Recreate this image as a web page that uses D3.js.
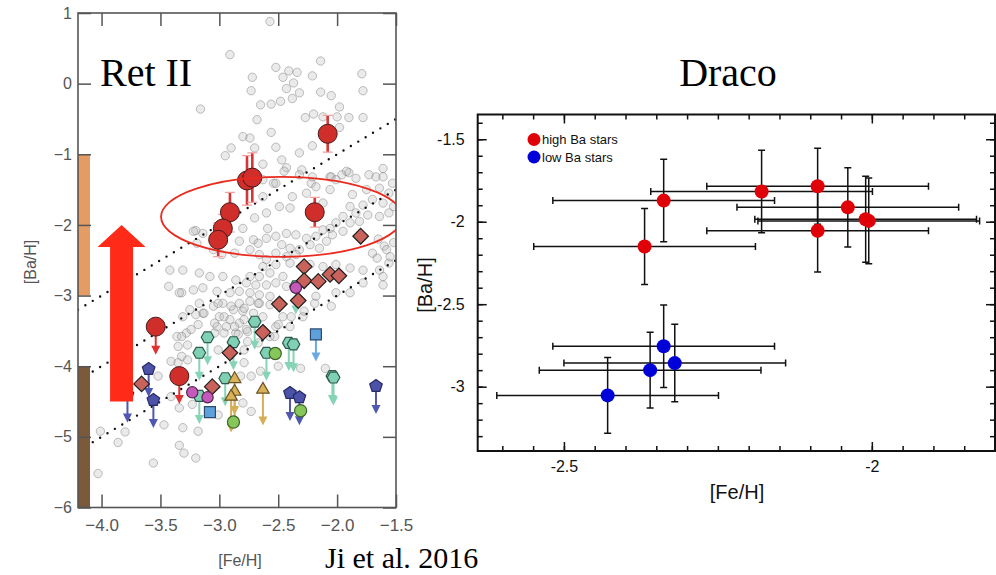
<!DOCTYPE html>
<html>
<head>
<meta charset="utf-8">
<script src="https://cdn.jsdelivr.net/npm/d3@7"></script>
<style>
body { margin: 0; background: #fff; }
svg { display: block; font-family: "Liberation Sans", Arial, sans-serif; }
</style>
</head>
<body>
<div id="chart"></div>
<script>
// ---- left panel data : [Fe/H], [Ba/H] ----
var haloStars = [
  [-2.57,0.88],[-2.91,0.41],[-2.14,0.32],[-2.52,0.23],[-2.41,0.18],[-2.34,0.16],[-2.21,0.11],[-1.79,0.14],
  [-2.72,0.09],[-2.46,0.09],[-2.37,0.01],[-2.43,-0.07],[-2.73,-0.10],[-2.32,-0.13],[-2.14,-0.12],[-2.05,-0.17],
  [-1.78,-0.10],[-2.38,-0.21],[-2.48,-0.25],[-2.56,-0.29],[-2.65,-0.30],[-1.98,-0.33],[-3.16,-0.36],[-2.27,-0.48],
  [-2.20,-0.43],[-2.12,-0.47],[-2.00,-0.47],[-1.90,-0.48],[-1.78,-0.48],[-2.68,-0.51],[-1.98,-0.62],[-2.56,-0.69],
  [-2.80,-0.75],[-2.74,-0.77],[-2.90,-0.91],[-2.70,-0.91],[-2.52,-0.90],[-2.21,-0.88],[-2.95,-1.02],[-2.32,-0.98],
  [-2.47,-1.08],[-2.63,-1.14],[-2.43,-1.19],[-2.30,-1.22],[-2.06,-1.32],[-1.96,-1.29],[-1.90,-1.26],[-2.22,-1.41],
  [-2.54,-1.41],[-1.67,-1.32],[-1.61,-1.20],[-3.20,-2.08],
  [-2.45,-1.24],[-2.32,-1.29],[-2.21,-1.32],[-2.05,-1.32],[-1.92,-1.24],[-1.84,-1.34],[-1.73,-1.29],[-1.61,-1.32],
  [-1.53,-1.41],[-1.64,-1.48],[-1.56,-1.55],[-1.75,-1.50],[-1.87,-1.57],[-1.70,-1.64],[-1.61,-1.69],[-1.52,-1.74],
  [-1.78,-1.72],[-1.89,-1.74],[-1.84,-1.83],[-1.74,-1.86],[-1.64,-1.88],[-1.56,-1.83],[-1.95,-1.88],[-2.01,-1.97],
  [-2.06,-2.05],[-1.89,-1.97],[-1.81,-1.95],[-2.12,-2.07],[-2.04,-2.14],[-1.95,-2.09],[-2.18,-2.16],[-2.26,-2.19],
  [-2.09,-2.23],[-2.15,-2.33],[-2.23,-2.28],[-2.32,-2.35],[-2.40,-2.33],[-2.47,-2.28],[-2.35,-2.42],[-2.43,-2.45],
  [-2.52,-2.40],[-2.60,-2.49],[-2.66,-2.42],[-2.74,-2.35],[-2.71,-2.21],[-2.83,-2.23],[-2.60,-2.19],[-2.67,-2.26],
  [-2.87,-2.40],[-2.98,-2.42],[-3.05,-2.35],[-3.19,-2.26],[-3.22,-2.09],[-3.14,-2.12],[-2.80,-2.05],[-2.70,-1.90],
  [-2.60,-1.83],[-2.63,-1.60],[-2.49,-1.74],[-2.40,-1.76],[-2.38,-1.60],[-2.26,-1.55],[-2.12,-1.69],[-2.06,-1.50],
  [-2.18,-1.46],[-2.52,-1.41],[-2.63,-1.36],[-2.01,-1.36],[-2.59,-2.05],[-2.43,-2.12],[-2.35,-2.14],[-2.52,-2.16],
  [-2.23,-2.56],[-2.12,-2.59],[-2.01,-2.56],[-1.89,-2.61],[-1.78,-2.64],[-1.64,-2.64],[-1.56,-2.54],[-1.61,-2.73],
  [-2.40,-2.54],[-2.52,-2.56],[-2.63,-2.59],[-2.57,-2.68],[-2.66,-2.73],[-2.74,-2.73],[-2.46,-2.73],[-2.43,-2.87],
  [-2.52,-2.82],[-2.60,-2.85],[-2.69,-2.85],[-2.77,-2.82],[-2.86,-2.78],[-2.97,-2.73],[-3.08,-2.73],[-3.17,-2.68],
  [-3.31,-2.64],[-3.42,-2.64],[-3.43,-2.87],[-3.32,-2.96],[-3.22,-2.92],[-3.14,-2.89],[-3.02,-2.94],[-2.91,-2.96],
  [-2.83,-2.94],[-2.74,-2.96],[-2.66,-2.99],[-2.57,-3.01],[-2.74,-3.08],[-2.66,-3.11],[-2.57,-3.13],[-2.83,-3.11],
  [-2.88,-3.20],[-2.80,-3.22],[-2.71,-3.25],[-2.63,-3.30],[-2.97,-3.11],[-3.05,-3.15],[-3.17,-3.11],[-3.25,-3.20],
  [-3.31,-3.30],[-3.14,-3.25],[-3.00,-3.30],[-2.91,-3.34],[-2.83,-3.39],[-2.77,-3.48],[-2.86,-3.53],[-2.94,-3.44],
  [-3.02,-3.44],[-3.28,-3.53],[-3.36,-3.58],[-2.46,-3.30],[-2.40,-3.44],[-2.52,-3.44],[-2.57,-3.58],[-2.29,-3.30],
  [-2.18,-3.01],[-2.01,-2.96],[-1.89,-2.96],[-1.78,-2.82],[-1.61,-2.85],
  [-2.05,-3.15],[-2.19,-3.11],[-2.67,-3.11],[-2.79,-3.18],[-2.90,-3.15],[-3.01,-3.11],[-3.13,-3.25],[-3.20,-3.27],
  [-3.04,-3.39],[-2.96,-3.30],[-2.87,-3.44],[-2.79,-3.34],[-2.76,-3.51],[-2.84,-3.55],[-2.96,-3.53],[-3.04,-3.53],
  [-3.24,-3.48],[-3.32,-3.58],[-3.18,-3.41],[-3.35,-3.72],[-3.27,-3.70],[-3.01,-3.77],[-2.79,-3.77],[-2.76,-3.65],
  [-2.67,-3.67],[-2.53,-3.58],[-2.50,-3.41],[-2.39,-3.30],[-2.28,-3.22],[-3.41,-3.93],[-3.35,-3.95],[-3.27,-3.91],
  [-3.32,-3.86],[-2.79,-3.95],[-2.73,-4.14],[-2.82,-4.14],[-2.65,-4.07],[-2.50,-4.00],[-2.31,-4.03],[-2.10,-4.03],
  [-3.52,-4.14],[-3.41,-4.43],[-3.34,-4.59],[-3.47,-4.83],[-3.31,-4.87],[-3.23,-4.54],[-3.18,-4.92],[-3.01,-4.69],
  [-2.80,-4.52],[-2.73,-4.64],[-3.34,-5.12],[-3.30,-5.23],[-3.20,-5.30],[-3.56,-5.37],[-3.80,-4.93],[-3.86,-5.08],
  [-4.01,-4.92],[-4.03,-5.52],[-3.34,-2.96],[-1.60,-2.30],[-1.55,-2.45],[-1.70,-2.40],[-1.65,-2.20],[-1.58,-2.35],
  [-1.66,-2.47],[-1.52,-2.25]
];

// Ret II stars: [Fe/H], [Ba/H], error
var retII = [[-2.08,-0.71,0.26],[-2.765,-1.37,0.35],[-2.72,-1.33,0.35],[-2.91,-1.82,0.28],
             [-2.97,-2.05,0.2],[-3.01,-2.21,0.24],[-2.19,-1.82,0.21]];
var retIILimits = [[-3.54,-3.44],[-3.34,-4.14]];

// other dwarf galaxies: [Fe/H], [Ba/H], upper limit (1/0)
var diamonds = [[-1.80,-2.16,0],[-2.28,-2.59,0],[-2.28,-2.79,0],[-2.16,-2.80,0],[-2.06,-2.70,0],[-1.985,-2.72,0],
                [-2.33,-3.07,0],[-2.49,-3.12,0],[-2.63,-3.52,0],[-2.91,-3.81,0],[-3.66,-4.25,0],[-3.06,-4.29,0]];
var hexagons = [[-2.35,-2.87,1],[-2.70,-3.37,1],[-3.10,-3.59,1],[-2.88,-3.66,1],[-3.17,-3.81,1],[-2.60,-3.81,1],
                [-2.41,-3.67,1],[-2.37,-3.69,1],[-2.95,-4.17,1],[-3.17,-4.42,1],[-2.04,-4.14,1],[-2.03,-4.16,1]];
var magentas = [[-2.35,-2.89,0],[-3.23,-4.37,0],[-3.10,-4.44,0]];
var greens = [[-2.525,-3.82,0],[-2.88,-4.79,0],[-2.31,-4.63,0]];
var pentagons = [[-3.78,-4.40,1],[-3.60,-4.04,1],[-3.56,-4.48,1],[-2.40,-4.38,1],[-2.32,-4.44,1],[-1.67,-4.28,1]];
var triangles = [[-2.87,-4.18,1],[-2.87,-4.36,1],[-2.90,-4.43,1],[-2.63,-4.33,1]];
var squares = [[-2.18,-3.55,1],[-3.08,-4.65,0]];

var trendOffsets = [1, 0, -1];          // [Ba/H] = [Fe/H] + c
var bandRanges = [[-3, -1], [-6, -4]];  // coloured bars on the y axis
var arrowFe = -3.83, arrowBa = [-4.5, -2.0];
var ellipseC = [-2.47, -1.885], ellipseR = [1.025, 0.566];

var leftXTicks = [-4.0, -3.5, -3.0, -2.5, -2.0, -1.5];
var leftYTicks = [1, 0, -1, -2, -3, -4, -5, -6];

// ---- Draco data ----
var highFe = [-2.369, -2.338, -2.179, -2.088, -2.039, -2.010, -2.005, -2.088];
var highBa = [-2.150, -1.872, -1.817, -1.785, -1.913, -1.985, -1.995, -2.055];
var highBaErr = [0.23, 0.25, 0.25, 0.23, 0.24, 0.26, 0.26, 0.25];
var lowFe = [-2.338, -2.320, -2.360, -2.429];
var lowBa = [-2.755, -2.857, -2.900, -3.053];
var lowBaErr = [0.25, 0.235, 0.23, 0.23];
var feErr = 0.18;
var rightXTicks = [-2.5, -2];
var rightYTicks = [-1.5, -2, -2.5, -3];
var legendLabels = ["high Ba stars", "low Ba stars"];

var width = 996, height = 575;
var svg = d3.select("#chart").append("svg")
    .attr("width", width)
    .attr("height", height);
svg.append("rect").attr("width", width).attr("height", height).attr("fill", "#fff");

// ================= left panel =================
var xL = d3.scaleLinear().domain([-4.2, -1.5]).range([78, 396]),
    yL = d3.scaleLinear().domain([-6, 1]).range([507.5, 13]);

svg.append("clipPath").attr("id", "clipL")
  .append("rect").attr("x", 78).attr("y", 13).attr("width", 318).attr("height", 494.5);
var left = svg.append("g").attr("clip-path", "url(#clipL)");

left.selectAll(".halo")
    .data(haloStars)
  .enter().append("circle")
    .attr("class", "halo")
    .attr("cx", d => xL(d[0]))
    .attr("cy", d => yL(d[1]))
    .attr("r", 4.2)
    .attr("fill", "rgba(185,185,185,0.3)")
    .attr("stroke", "rgba(105,105,105,0.4)")
    .attr("stroke-width", 1);

trendOffsets.forEach(c => {
  left.append("line")
    .attr("x1", xL(-4.2)).attr("y1", yL(-4.2 + c))
    .attr("x2", xL(-1.5)).attr("y2", yL(-1.5 + c))
    .attr("stroke", "#111")
    .attr("stroke-width", 2.4)
    .attr("stroke-linecap", "round")
    .attr("stroke-dasharray", "0 8.6");
});

var bandColors = ["#e49c64", "#7b5a3b"];
left.selectAll(".band")
    .data(bandRanges)
  .enter().append("rect")
    .attr("x", xL(-4.2))
    .attr("width", 12)
    .attr("y", d => yL(d[1]))
    .attr("height", d => yL(d[0]) - yL(d[1]))
    .attr("fill", (d, i) => bandColors[i]);

function poly(n, r, rot) {
  var pts = [];
  for (var i = 0; i < n; i++) {
    var a = rot + i * 2 * Math.PI / n;
    pts.push([(r * Math.sin(a)).toFixed(2), (-r * Math.cos(a)).toFixed(2)]);
  }
  return "M" + pts.join("L") + "Z";
}

function limitArrow(g, x, y, len, color) {
  g.append("line")
    .attr("x1", x).attr("y1", y)
    .attr("x2", x).attr("y2", y + len - 7)
    .attr("stroke", color).attr("stroke-width", 2);
  g.append("path")
    .attr("d", "M" + (x - 4.5) + "," + (y + len - 9) + "L" + (x + 4.5) + "," + (y + len - 9) + "L" + x + "," + (y + len) + "Z")
    .attr("fill", color);
}

function markers(data, shape, fill, stroke, arrowColor, len) {
  var g = left.append("g");
  data.forEach(d => {
    if (d[2]) limitArrow(g, xL(d[0]), yL(d[1]), len, arrowColor);
  });
  g.selectAll("path.m")
      .data(data)
    .enter().append("path")
      .attr("class", "m")
      .attr("d", shape)
      .attr("transform", d => "translate(" + xL(d[0]) + "," + yL(d[1]) + ")")
      .attr("fill", fill)
      .attr("stroke", stroke)
      .attr("stroke-width", 1.2);
}

markers(hexagons, poly(6, 6.3, Math.PI / 6), "#80d0b3", "#2e5a4f", "#86d4b6", 28);
markers(pentagons, poly(5, 6.6, 0), "#4b52a8", "#262b66", "#4f57b0", 28);
markers(triangles, poly(3, 7.2, 0), "#d9b257", "#6a5326", "#d6ae58", 36);
markers(squares, d3.symbol().type(d3.symbolSquare).size(120)(), "#5ea0dc", "#2b4b6c", "#6aa9e2", 27);
markers(diamonds, poly(4, 7.8, 0), "#c9625a", "#1e1e1e", "#c9625a", 0);
markers(greens, d3.symbol().type(d3.symbolCircle).size(115)(), "#86c65a", "#3b6528", "#86c65a", 0);
markers(magentas, d3.symbol().type(d3.symbolCircle).size(100)(), "#c559b9", "#55264f", "#c559b9", 0);

// Ret II
var ret = left.append("g");
retIILimits.forEach(d => limitArrow(ret, xL(d[0]), yL(d[1]), 28, "#e03030"));
retII.forEach(d => {
  var x = xL(d[0]);
  ret.append("line")
    .attr("x1", x).attr("x2", x)
    .attr("y1", yL(d[1] + d[2])).attr("y2", yL(d[1] - d[2]))
    .attr("stroke", "#d63636").attr("stroke-width", 2.6);
  [d[1] + d[2], d[1] - d[2]].forEach(v => {
    ret.append("line")
      .attr("x1", x - 5).attr("x2", x + 5)
      .attr("y1", yL(v)).attr("y2", yL(v))
      .attr("stroke", "#f2a0a0").attr("stroke-width", 1.2);
  });
});
ret.selectAll("circle")
    .data(retII.concat(retIILimits))
  .enter().append("circle")
    .attr("cx", d => xL(d[0]))
    .attr("cy", d => yL(d[1]))
    .attr("r", 9.5)
    .attr("fill", "#cf2e2b")
    .attr("stroke", "#4a1a1a")
    .attr("stroke-width", 1);

// ellipse and big arrow
left.append("ellipse")
  .attr("cx", xL(ellipseC[0])).attr("cy", yL(ellipseC[1]))
  .attr("rx", xL(ellipseC[0] + ellipseR[0]) - xL(ellipseC[0]))
  .attr("ry", yL(ellipseC[1]) - yL(ellipseC[1] + ellipseR[1]))
  .attr("fill", "none").attr("stroke", "#ea2a1e").attr("stroke-width", 1.8);

var ax = xL(arrowFe), aTop = yL(arrowBa[1]), aBot = yL(arrowBa[0]);
svg.append("path")
  .attr("d", "M" + (ax - 11.5) + "," + aBot + "L" + (ax - 11.5) + "," + (aTop + 22) +
             "L" + (ax - 24) + "," + (aTop + 22) + "L" + ax + "," + aTop +
             "L" + (ax + 24) + "," + (aTop + 22) + "L" + (ax + 11.5) + "," + (aTop + 22) +
             "L" + (ax + 11.5) + "," + aBot + "Z")
  .attr("fill", "#ff2a17");

// axes
function styleAxis(g, color) {
  g.select(".domain").remove();
  g.selectAll(".tick line").attr("stroke", color).attr("stroke-width", 1.5);
  g.selectAll("text").attr("fill", color);
}
svg.append("g").attr("transform", "translate(0,507.5)")
  .call(d3.axisBottom(xL).tickValues(leftXTicks).tickSize(-13).tickSizeOuter(0).tickPadding(11).tickFormat(d3.format(".1f")))
  .attr("font-size", 17).attr("font-family", null)
  .call(g => styleAxis(g, "#555"));
svg.append("g").attr("transform", "translate(0,13)")
  .call(d3.axisTop(xL).tickValues(leftXTicks).tickSize(-13).tickSizeOuter(0).tickFormat(""))
  .call(g => styleAxis(g, "#555"));
svg.append("g").attr("transform", "translate(78,0)")
  .call(d3.axisLeft(yL).tickValues(leftYTicks).tickSize(-13).tickSizeOuter(0).tickPadding(6).tickFormat(d3.format("d")))
  .attr("font-size", 16).attr("font-family", null)
  .call(g => styleAxis(g, "#555"));
svg.append("g").attr("transform", "translate(396,0)")
  .call(d3.axisRight(yL).tickValues(leftYTicks).tickSize(-13).tickSizeOuter(0).tickFormat(""))
  .call(g => styleAxis(g, "#555"));
svg.append("rect")
  .attr("x", 78).attr("y", 13).attr("width", 318).attr("height", 494.5)
  .attr("fill", "none").attr("stroke", "#555").attr("stroke-width", 1.6);

svg.append("text").attr("x", 240).attr("y", 566).attr("text-anchor", "middle")
  .attr("font-size", 16).attr("fill", "#555").text("[Fe/H]");
svg.append("text").attr("transform", "translate(36,262) rotate(-90)").attr("text-anchor", "middle")
  .attr("font-size", 16).attr("fill", "#555").text("[Ba/H]");

svg.append("text").attr("x", 100).attr("y", 86)
  .attr("font-family", "'Liberation Serif', 'Times New Roman', serif").attr("font-size", 40)
  .text("Ret II");
svg.append("text").attr("x", 325).attr("y", 568)
  .attr("font-family", "'Liberation Serif', 'Times New Roman', serif").attr("font-size", 30)
  .text("Ji et al. 2016");

// ================= right panel (Draco) =================
var xR = d3.scaleLinear().domain([-2.64, -1.80]).range([477.7, 995]),
    yR = d3.scaleLinear().domain([-3.39, -1.35]).range([451, 114.5]);

var draco = svg.append("g");

// ticks
draco.append("g").attr("transform", "translate(0,451)")
  .call(d3.axisBottom(xR).tickValues(xR.ticks(17)).tickSize(-5).tickSizeOuter(0).tickFormat(""))
  .call(g => styleAxis(g, "#111"));
draco.append("g").attr("transform", "translate(0,451)")
  .call(d3.axisBottom(xR).tickValues(rightXTicks).tickSize(-9).tickSizeOuter(0).tickPadding(10).tickFormat(d => String(d)))
  .attr("font-size", 16).attr("font-family", null)
  .call(g => styleAxis(g, "#111"));
draco.append("g").attr("transform", "translate(0,114.5)")
  .call(d3.axisTop(xR).tickValues(xR.ticks(17)).tickSize(-5).tickSizeOuter(0).tickFormat(""))
  .call(g => styleAxis(g, "#111"));
draco.append("g").attr("transform", "translate(0,114.5)")
  .call(d3.axisTop(xR).tickValues(rightXTicks).tickSize(-9).tickSizeOuter(0).tickFormat(""))
  .call(g => styleAxis(g, "#111"));
draco.append("g").attr("transform", "translate(477.7,0)")
  .call(d3.axisLeft(yR).tickValues(yR.ticks(20)).tickSize(-5).tickSizeOuter(0).tickFormat(""))
  .call(g => styleAxis(g, "#111"));
draco.append("g").attr("transform", "translate(477.7,0)")
  .call(d3.axisLeft(yR).tickValues(rightYTicks).tickSize(-9).tickSizeOuter(0).tickPadding(13).tickFormat(d => String(d)))
  .attr("font-size", 16).attr("font-family", null)
  .call(g => styleAxis(g, "#111"));
draco.append("g").attr("transform", "translate(995,0)")
  .call(d3.axisRight(yR).tickValues(yR.ticks(20)).tickSize(-5).tickSizeOuter(0).tickFormat(""))
  .call(g => styleAxis(g, "#111"));
draco.append("g").attr("transform", "translate(995,0)")
  .call(d3.axisRight(yR).tickValues(rightYTicks).tickSize(-9).tickSizeOuter(0).tickFormat(""))
  .call(g => styleAxis(g, "#111"));
draco.append("rect")
  .attr("x", 477.7).attr("y", 114.5).attr("width", 995 - 477.7).attr("height", 451 - 114.5)
  .attr("fill", "none").attr("stroke", "#111").attr("stroke-width", 2);

// error bars and points
function dracoSeries(fe, ba, baErr, color) {
  var g = draco.append("g");
  fe.forEach((f, i) => {
    var x = xR(f), y = yR(ba[i]);
    var x0 = xR(f - feErr), x1 = xR(f + feErr), y0 = yR(ba[i] - baErr[i]), y1 = yR(ba[i] + baErr[i]);
    var path = "M" + x0 + "," + y + "H" + x1 +
               "M" + x0 + "," + (y - 3.5) + "V" + (y + 3.5) +
               "M" + x1 + "," + (y - 3.5) + "V" + (y + 3.5) +
               "M" + x + "," + y0 + "V" + y1 +
               "M" + (x - 3.5) + "," + y0 + "H" + (x + 3.5) +
               "M" + (x - 3.5) + "," + y1 + "H" + (x + 3.5);
    g.append("path").attr("d", path).attr("fill", "none").attr("stroke", "#111").attr("stroke-width", 1.5);
  });
  g.selectAll("circle")
      .data(fe)
    .enter().append("circle")
      .attr("cx", d => xR(d))
      .attr("cy", (d, i) => yR(ba[i]))
      .attr("r", 7)
      .attr("fill", color);
}
dracoSeries(highFe, highBa, highBaErr, "#e00008");
dracoSeries(lowFe, lowBa, lowBaErr, "#0000d8");

// legend
var legendColors = ["#e00008", "#0000d8"];
var legend = draco.selectAll(".legend")
    .data(legendLabels)
  .enter().append("g")
    .attr("class", "legend")
    .attr("transform", (d, i) => "translate(534," + (139.5 + i * 17.5) + ")");
legend.append("circle").attr("r", 6.5).attr("fill", (d, i) => legendColors[i]);
legend.append("text").attr("x", 8).attr("y", 4.5).attr("font-size", 13).attr("fill", "#111").text(d => d);

draco.append("text").attr("x", 737).attr("y", 499).attr("text-anchor", "middle")
  .attr("font-size", 20).attr("fill", "#111").text("[Fe/H]");
draco.append("text").attr("transform", "translate(432,285) rotate(-90)").attr("text-anchor", "middle")
  .attr("font-size", 20).attr("fill", "#111").text("[Ba/H]");
draco.append("text").attr("x", 728).attr("y", 86).attr("text-anchor", "middle")
  .attr("font-family", "'Liberation Serif', 'Times New Roman', serif").attr("font-size", 40)
  .text("Draco");
</script>
</body>
</html>
